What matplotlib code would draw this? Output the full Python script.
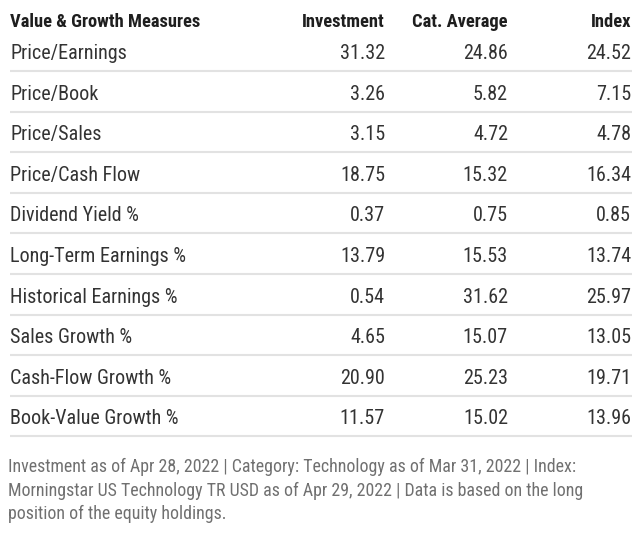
import matplotlib
matplotlib.use("Agg")
import matplotlib.pyplot as plt

measures = ["Price/Earnings", "Price/Book", "Price/Sales", "Price/Cash Flow",
            "Dividend Yield %", "Long-Term Earnings %", "Historical Earnings %",
            "Sales Growth %", "Cash-Flow Growth %", "Book-Value Growth %"]
investment = [31.32, 3.26, 3.15, 18.75, 0.37, 13.79, 0.54, 4.65, 20.90, 11.57]
cat_average = [24.86, 5.82, 4.72, 15.32, 0.75, 15.53, 31.62, 15.07, 25.23, 15.02]
index_vals = [24.52, 7.15, 4.78, 16.34, 0.85, 13.74, 25.97, 13.05, 19.71, 13.96]
headers = ["Value & Growth Measures", "Investment", "Cat. Average", "Index"]
footnote_lines = [
    "Investment as of Apr 28, 2022 | Category: Technology as of Mar 31, 2022 | Index:",
    "Morningstar US Technology TR USD as of Apr 29, 2022 | Data is based on the long",
    "position of the equity holdings.",
]

FONT = ["Roboto Condensed", "DejaVu Sans"]
fig = plt.figure(figsize=(6.4, 5.35), dpi=100)
ax = fig.add_axes([0, 0, 1, 1])
ax.set_xlim(0, 640)
ax.set_ylim(535, 0)
ax.axis("off")

left_x = 10
col_right = [385, 508, 631]
header_y = 27
row0 = 53.5
step = 40.6

ax.text(left_x, header_y, headers[0], ha="left", va="baseline", fontsize=13.3,
        fontweight="bold", color="#1e1e1e", family=FONT)
for h, xr in zip(headers[1:], col_right):
    ax.text(xr, header_y, h, ha="right", va="baseline", fontsize=13.3,
            fontweight="bold", color="#1e1e1e", family=FONT)

for i, m in enumerate(measures):
    y = row0 + i * step
    ax.text(left_x, y, m, ha="left", va="center", fontsize=14.5, color="#333333", family=FONT)
    for vals, xr in zip([investment, cat_average, index_vals], col_right):
        ax.text(xr, y, f"{vals[i]:.2f}", ha="right", va="center", fontsize=14.5,
                color="#333333", family=FONT)
    ly = y + 17.5
    ax.plot([10, 632], [ly, ly], color="#e2e2e2", lw=1.5, solid_capstyle="butt")

for k, line in enumerate(footnote_lines):
    ax.text(8, 472 + k * 23.5, line, ha="left", va="baseline", fontsize=12.9,
            color="#707070", family=FONT)

fig.savefig("out.png", dpi=100)
